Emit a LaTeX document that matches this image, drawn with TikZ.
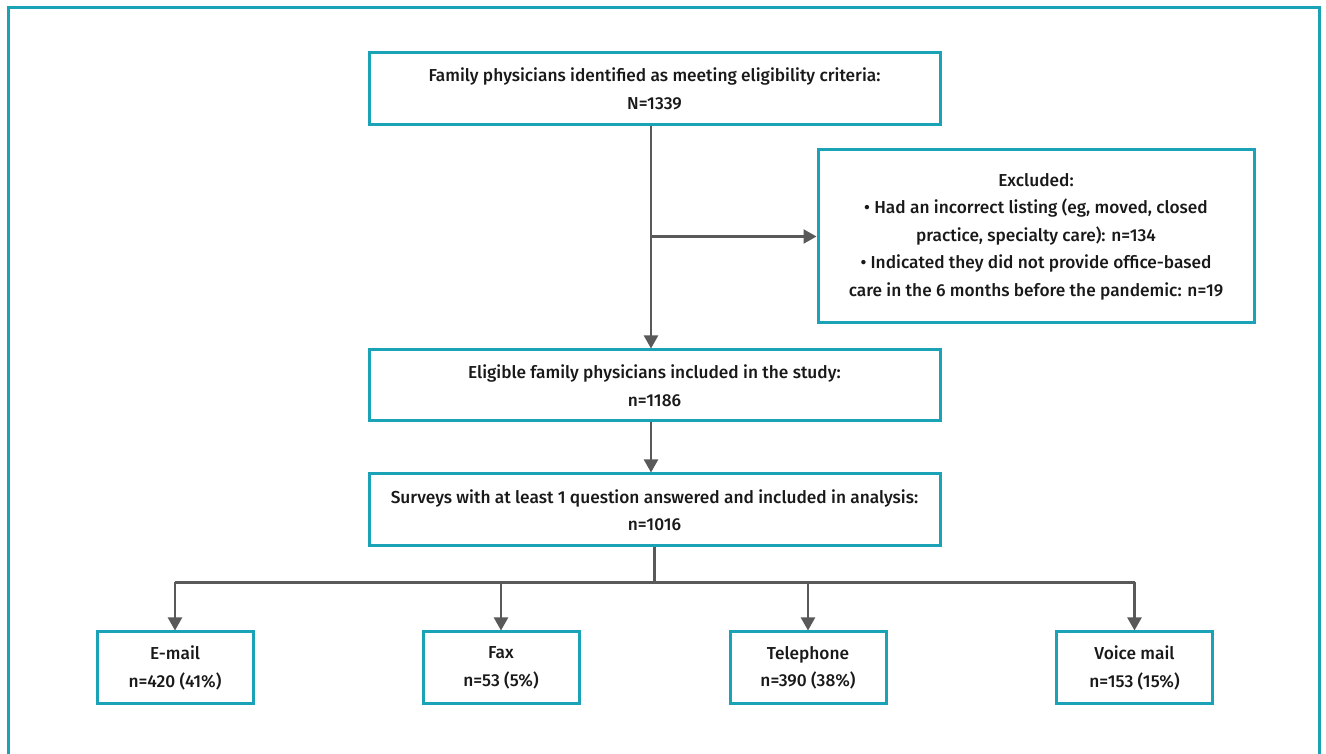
\documentclass[tikz,border=0pt]{standalone}
\usepackage{fontspec}
\setmainfont{Fira Sans}[UprightFont={* Medium}]
\usetikzlibrary{arrows.meta,calc}
\definecolor{teal1}{HTML}{1AA2B6}
\definecolor{arrowgray}{HTML}{595959}
\begin{document}
\begin{tikzpicture}[x=1pt,y=1pt,
  box/.style={draw=teal1,line width=3pt,fill=white,align=center,inner sep=0pt,
    font=\fontsize{17.3}{27.5}\selectfont,text=black!90},
  conn/.style={draw=arrowgray,line width=2.2pt},
  arr/.style={conn,-{Triangle[length=13pt,width=14pt]}}]
\useasboundingbox (0,0) rectangle (1326,754);
\fill[white] (0,0) rectangle (1326,754);
\draw[teal1,line width=3pt] (8,-5) -- (8,746) -- (1319,746) -- (1319,-5);
\node[box,minimum width=571pt,minimum height=72pt] (b1) at (654.5,665)
  {Family physicians identified as meeting eligibility criteria:\\N=1339};
\node[box,minimum width=436pt,minimum height=173pt] (ex) at (1036,517.5)
  {Excluded:\\ \textbullet\ Had an incorrect listing (eg, moved, closed\\practice, specialty care): n=134\\ \textbullet\ Indicated they did not provide office-based\\care in the 6 months before the pandemic: n=19};
\node[box,minimum width=571pt,minimum height=71pt] (b2) at (654.5,368.5)
  {Eligible family physicians included in the study:\\n=1186};
\node[box,minimum width=571pt,minimum height=72pt] (b3) at (654.5,244)
  {Surveys with at least 1 question answered and included in analysis:\\n=1016};
\node[box,minimum width=156pt,minimum height=72pt] (e) at (175,86) {E-mail\\n=420 (41\%)};
\node[box,minimum width=156pt,minimum height=72pt] (f) at (501,86) {Fax\\n=53 (5\%)};
\node[box,minimum width=156pt,minimum height=72pt] (t) at (808,86) {Telephone\\n=390 (38\%)};
\node[box,minimum width=156pt,minimum height=72pt] (v) at (1134.5,86) {Voice mail\\n=153 (15\%)};
\coordinate (split) at ($(b1.south)+(-3.5,0)$);
\coordinate (exj) at (ex.west -| split);
\draw[arr] (split) -- (split |- b2.north);
\draw[arr] (exj) -- (ex.west);
\draw[arr] ($(b2.south)+(-3.5,0)$) -- ($(b3.north)+(-3.5,0)$);
\coordinate (br) at ($(b3.south)+(0,-35)$);
\draw[conn] (b3.south) -- (br);
\draw[conn] (e.north |- br) -- (v.north |- br);
\foreach \n in {e,f,t,v} \draw[arr] (\n.north |- br) -- (\n.north);
\end{tikzpicture}
\end{document}
